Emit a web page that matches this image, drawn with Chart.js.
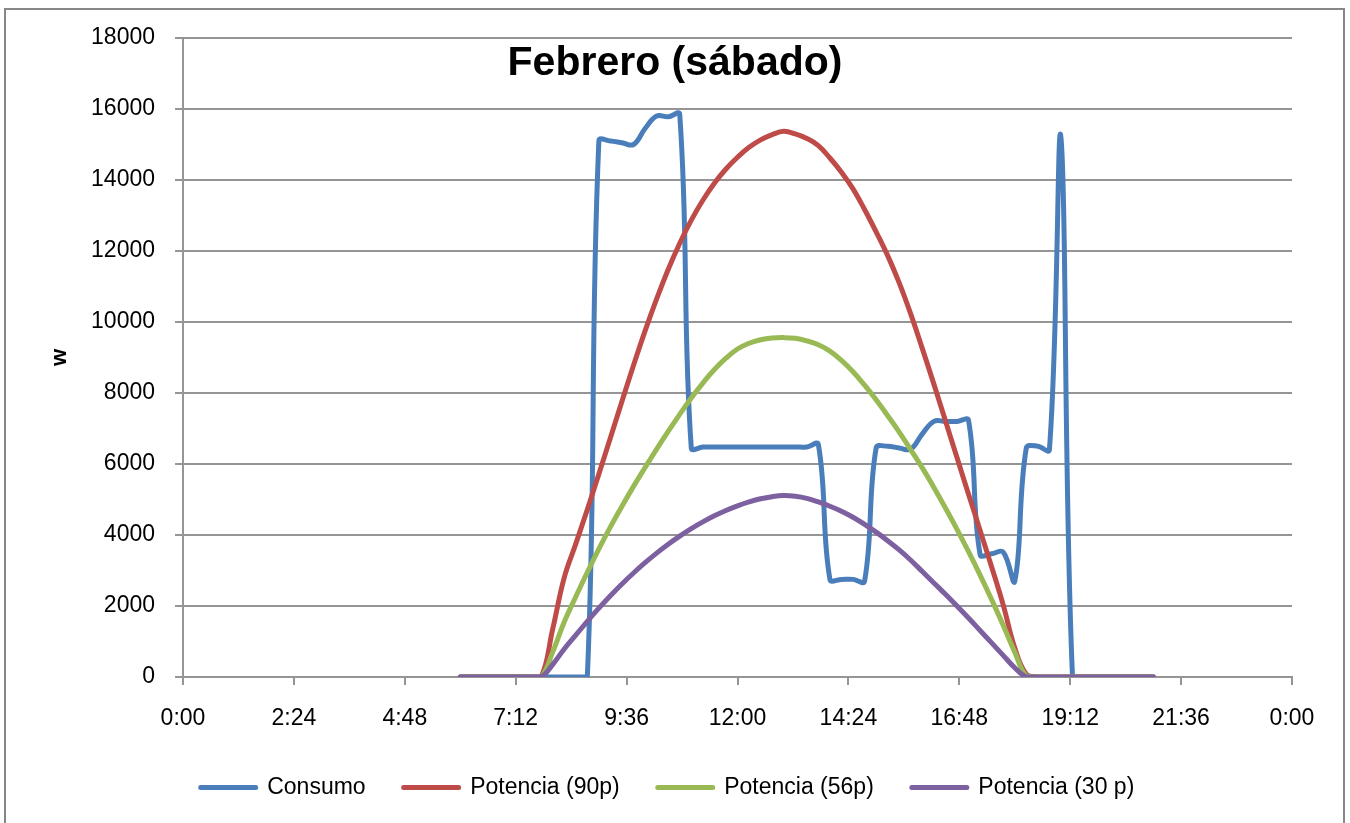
<!DOCTYPE html>
<html>
<head>
<meta charset="utf-8">
<title>Febrero (sábado)</title>
<script src="https://cdn.jsdelivr.net/npm/chart.js@4.4.1/dist/chart.umd.min.js"></script>
<style>
  html, body { margin: 0; padding: 0; background: #fff; }
  #wrap { position: relative; width: 1350px; height: 823px; overflow: hidden; }
  #frame { position: absolute; left: 4px; top: 8px; width: 1337px; height: 830px; border: 2px solid #878787; }
  #chart { position: absolute; left: 0; top: 0; }
  #title { position: absolute; left: 0; top: 39px; width: 1350px; text-align: center;
           font: bold 41px "Liberation Sans", Arial, sans-serif; line-height: 44px; color: #000; }
</style>
</head>
<body>
<div id="wrap">
  <div id="frame"></div>
  <canvas id="chart" width="1350" height="823"></canvas>
  <div id="title">Febrero (sábado)</div>
</div>
<script>
// quarter-hour samples, 6:00 to 21:00
const times = [
  '6:00','6:15','6:30','6:45','7:00','7:15','7:30','7:45',
  '8:00','8:15','8:30','8:45','9:00','9:15','9:30','9:45',
  '10:00','10:15','10:30','10:45','11:00','11:15','11:30','11:45',
  '12:00','12:15','12:30','12:45','13:00','13:15','13:30','13:45',
  '14:00','14:15','14:30','14:45','15:00','15:15','15:30','15:45',
  '16:00','16:15','16:30','16:45','17:00','17:15','17:30','17:45',
  '18:00','18:15','18:30','18:45','19:00','19:15','19:30','19:45',
  '20:00','20:15','20:30','20:45','21:00'
];

const consumo = [
  0, 0, 0, 0, 0, 0, 0, 0,
  0, 0, 0, 0, 15100, 15100, 15050, 15000,
  15450, 15800, 15780, 15850, 6450, 6480, 6480, 6480,
  6480, 6480, 6480, 6480, 6480, 6480, 6480, 6550,
  2750, 2750, 2750, 2700, 6450, 6500, 6450, 6420,
  6850, 7200, 7200, 7200, 7230, 3450, 3470, 3520,
  2700, 6450, 6500, 6400, 15200, 0, 0, 0,
  0, 0, 0, 0, 0
];

const potencia90 = [
  0, 0, 0, 0, 0, 0, 0, 0,
  1350, 2800, 3750, 4720, 5720, 6740, 7770, 8780,
  9750, 10650, 11480, 12220, 12870, 13430, 13910, 14310,
  14640, 14920, 15130, 15280, 15370, 15300, 15170, 14970,
  14620, 14220, 13750, 13170, 12540, 11870, 11100, 10220,
  9250, 8250, 7220, 6180, 5150, 4130, 3100, 2030,
  820, 80, 0, 0, 0, 0, 0, 0,
  0, 0, 0, 0, 0
];

const potencia56 = [
  0, 0, 0, 0, 0, 0, 0, 0,
  700, 1550, 2260, 2950, 3610, 4230, 4810, 5370,
  5900, 6420, 6920, 7400, 7860, 8280, 8660, 8980,
  9240, 9400, 9500, 9550, 9560, 9540, 9470, 9360,
  9180, 8920, 8600, 8220, 7810, 7360, 6900, 6400,
  5890, 5340, 4760, 4160, 3530, 2870, 2180, 1460,
  700, 30, 0, 0, 0, 0, 0, 0,
  0, 0, 0, 0, 0
];

const potencia30 = [
  0, 0, 0, 0, 0, 0, 0, 0,
  350, 790, 1180, 1570, 1940, 2290, 2620, 2930,
  3220, 3490, 3740, 3970, 4180, 4370, 4540, 4690,
  4820, 4930, 5020, 5080, 5110, 5090, 5030, 4930,
  4810, 4670, 4500, 4300, 4080, 3840, 3580, 3290,
  2970, 2650, 2330, 2000, 1660, 1310, 960, 610,
  260, 0, 0, 0, 0, 0, 0, 0,
  0, 0, 0, 0, 0
];

const seriesNames = ['Consumo', 'Potencia (90p)', 'Potencia (56p)', 'Potencia (30 p)'];
const seriesColors = ['#4a7ebb', '#be4b48', '#98b954', '#7d60a0'];

function toHours(t) {
    const parts = t.split(':');
    return Number(parts[0]) + Number(parts[1]) / 60;
}

function formatTime(v) {
    const mins = Math.round(v * 60) % 1440;
    const h = Math.floor(mins / 60);
    const m = mins % 60;
    return h + ':' + (m < 10 ? '0' : '') + m;
}

const hours = times.map(toHours);

function makeDataset(idx, values) {
    return {
        label: seriesNames[idx],
        data: values.map((v, i) => ({ x: hours[i], y: v })),
        borderColor: seriesColors[idx],
        backgroundColor: seriesColors[idx],
        borderWidth: 5,
        pointRadius: 0,
        tension: 0.4,
        borderCapStyle: 'round',
        borderJoinStyle: 'round',
        // later series drawn on top, like the original
        order: 4 - idx
    };
}

const gridColor = '#959595';
const font = { family: '"Liberation Sans", Arial, sans-serif', size: 23 };

new Chart(document.getElementById('chart'), {
    type: 'line',
    data: {
        datasets: [
            makeDataset(0, consumo),
            makeDataset(1, potencia90),
            makeDataset(2, potencia56),
            makeDataset(3, potencia30)
        ]
    },
    options: {
        responsive: false,
        animation: false,
        layout: { padding: { left: 43, right: 58, top: 38, bottom: 14 } },
        plugins: {
            title: { display: false },
            tooltip: { enabled: false },
            legend: {
                position: 'bottom',
                labels: {
                    font: font,
                    color: '#000',
                    boxWidth: 55,
                    boxHeight: 0,
                    padding: 38,
                    sort: (a, b) => a.datasetIndex - b.datasetIndex
                }
            }
        },
        scales: {
            x: {
                type: 'linear',
                min: 0,
                max: 24,
                afterFit: function(scale) { scale.height = 61; },
                ticks: {
                    stepSize: 2.4,
                    font: font,
                    color: '#000',
                    padding: 20,
                    maxRotation: 0,
                    callback: function(value) { return formatTime(value); }
                },
                grid: {
                    drawOnChartArea: false,
                    drawTicks: true,
                    tickLength: 8,
                    color: gridColor,
                    lineWidth: 2
                },
                border: { color: gridColor, width: 2 }
            },
            y: {
                min: 0,
                max: 18000,
                afterFit: function(scale) { scale.width = 140; },
                ticks: {
                    stepSize: 2000,
                    font: font,
                    color: '#000',
                    padding: 20,
                    callback: function(value) { return String(value); }
                },
                grid: {
                    color: gridColor,
                    lineWidth: 2,
                    tickLength: 8
                },
                border: { color: gridColor, width: 2 },
                title: {
                    display: true,
                    text: 'w',
                    color: '#000',
                    font: { family: '"Liberation Sans", Arial, sans-serif', size: 22, weight: 'bold' }
                }
            }
        }
    }
});
</script>
</body>
</html>
